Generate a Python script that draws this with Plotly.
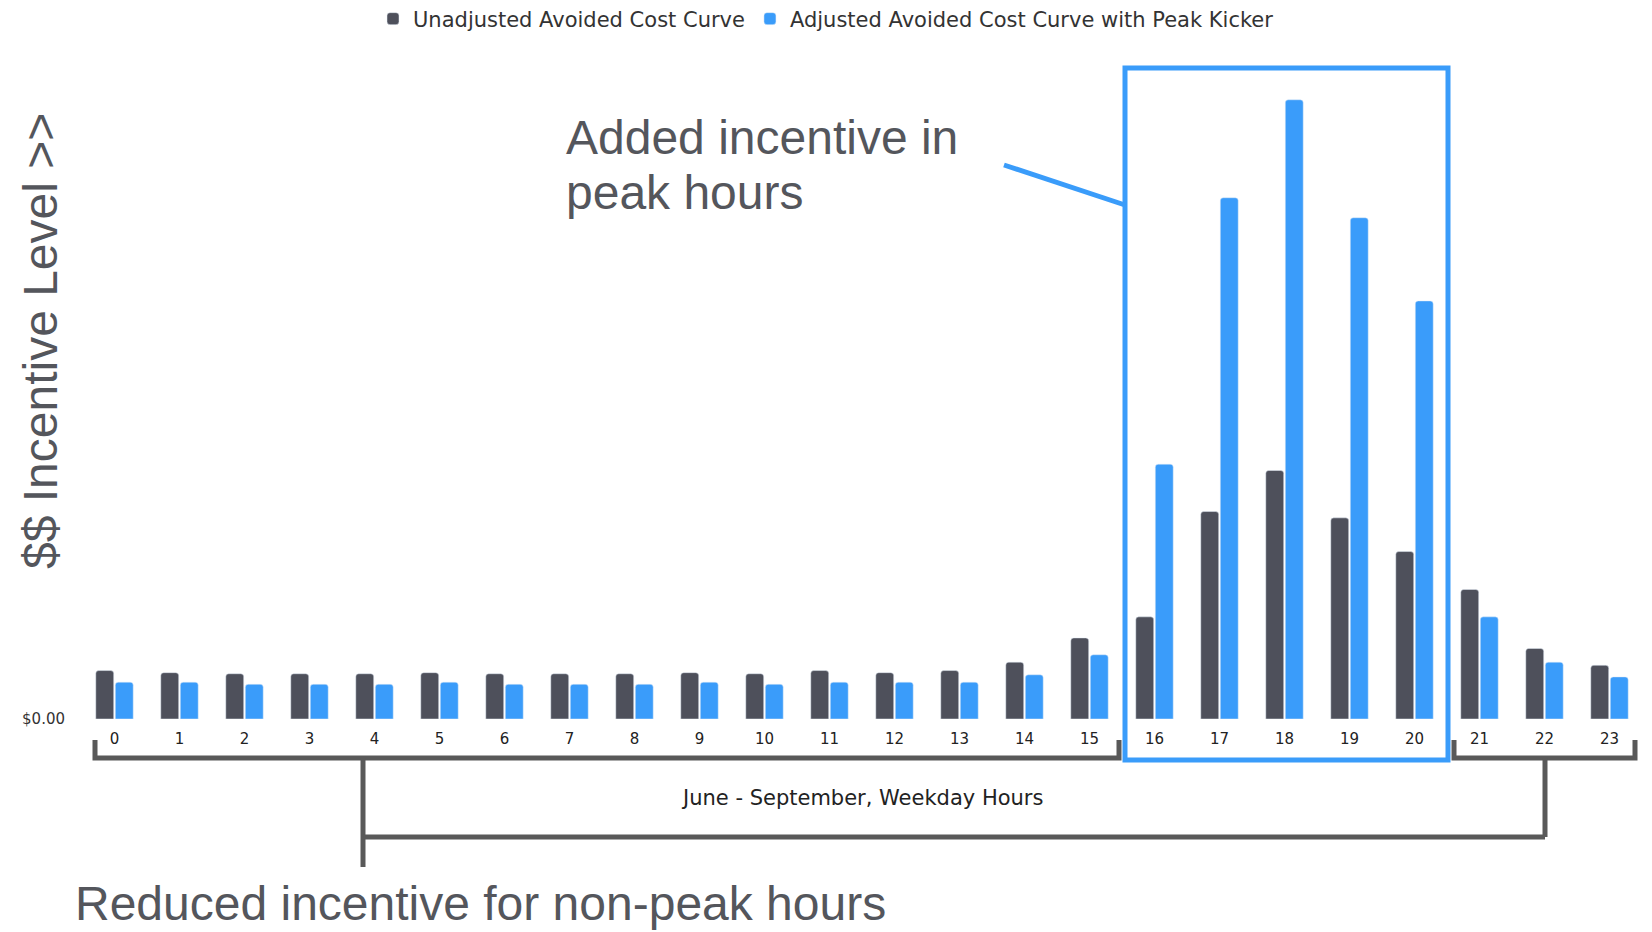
import plotly.graph_objects as go

# ---- data (arbitrary incentive units) ----
hours = list(range(24))
unadjusted = [46, 44, 43, 43, 43, 44, 43, 43, 43, 44, 43, 46, 44, 46, 54, 77,
              97, 197, 236, 191, 159, 123, 67, 51]
adjusted = [35, 35, 33, 33, 33, 35, 33, 33, 33, 35, 33, 35, 35, 35, 42, 61,
            242, 495, 588, 476, 397, 97, 54, 40]
series_names = ["Unadjusted Avoided Cost Curve", "Adjusted Avoided Cost Curve with Peak Kicker"]
tick_labels = [str(h) for h in hours]
y_tick_text = ["$0.00"]

# ---- geometry (page pixel coords; page body margin removed so figure fills the window) ----
W_FIG, H_FIG = 1652, 932
PLOT_LEFT, PLOT_RIGHT, PLOT_TOP, PLOT_BASE = 82, 1642, 60, 719
L = PLOT_LEFT
R = W_FIG - PLOT_RIGHT
T = PLOT_TOP
B = H_FIG - PLOT_BASE
PW = PLOT_RIGHT - PLOT_LEFT
PH = PLOT_BASE - PLOT_TOP


def xp(px):
    return (px - PLOT_LEFT) / PW


def yp(py):
    return (PLOT_BASE - py) / PH


DARK = "#4e505b"
BLUE = "#3a9cfa"
GRAY = "#595959"
TXT = "#54565c"

fig = go.Figure()
fig.add_trace(go.Bar(x=hours, y=unadjusted, name=series_names[0], marker_color=DARK))
fig.add_trace(go.Bar(x=hours, y=adjusted, name=series_names[1], marker_color=BLUE))

shapes = []
line_g = dict(color=GRAY, width=5)
line_b = dict(color=BLUE, width=5)
# left bracket
shapes.append(dict(type="path", xref="paper", yref="paper",
                   path=f"M{xp(95)},{yp(740)} L{xp(95)},{yp(758)} L{xp(1119)},{yp(758)} L{xp(1119)},{yp(740)}",
                   line=line_g))
# right bracket
shapes.append(dict(type="path", xref="paper", yref="paper",
                   path=f"M{xp(1454)},{yp(740)} L{xp(1454)},{yp(758)} L{xp(1635)},{yp(758)} L{xp(1635)},{yp(740)}",
                   line=line_g))
# connector below
shapes.append(dict(type="line", xref="paper", yref="paper", x0=xp(363), x1=xp(363), y0=yp(758), y1=yp(867), line=line_g))
shapes.append(dict(type="line", xref="paper", yref="paper", x0=xp(1545), x1=xp(1545), y0=yp(758), y1=yp(837), line=line_g))
shapes.append(dict(type="line", xref="paper", yref="paper", x0=xp(363), x1=xp(1545), y0=yp(837), y1=yp(837), line=line_g))
# peak rectangle
shapes.append(dict(type="rect", xref="paper", yref="paper", x0=xp(1125), x1=xp(1448), y0=yp(760), y1=yp(68), line=line_b))
# pointer line
shapes.append(dict(type="line", xref="paper", yref="paper", x0=xp(1004), y0=yp(165), x1=xp(1125), y1=yp(205), line=line_b))

annotations = [
    dict(text="$$ Incentive Level >>", xref="paper", yref="paper", x=xp(40), y=yp(341),
         textangle=-90, showarrow=False, xanchor="center", yanchor="middle",
         font=dict(family="Liberation Sans, Arial", size=48, color=TXT)),
    dict(text="Added incentive in", xref="paper", yref="paper", x=xp(564), y=yp(137),
         showarrow=False, xanchor="left", yanchor="middle",
         font=dict(family="Liberation Sans, Arial", size=48, color=TXT)),
    dict(text="peak hours", xref="paper", yref="paper", x=xp(564), y=yp(192),
         showarrow=False, xanchor="left", yanchor="middle",
         font=dict(family="Liberation Sans, Arial", size=48, color=TXT)),
    dict(text="June - September, Weekday Hours", xref="paper", yref="paper", x=xp(862), y=yp(798),
         showarrow=False, xanchor="center", yanchor="middle",
         font=dict(family="DejaVu Sans", size=21, color="#222222")),
    dict(text="Reduced incentive for non-peak hours", xref="paper", yref="paper", x=xp(73), y=yp(904),
         showarrow=False, xanchor="left", yanchor="middle",
         font=dict(family="Liberation Sans, Arial", size=48, color=TXT)),
]

fig.update_layout(
    width=W_FIG, height=H_FIG,
    margin=dict(l=L, r=R, t=T, b=B, autoexpand=False),
    paper_bgcolor="white", plot_bgcolor="white",
    barmode="group", bargap=0.4, bargroupgap=0.08, barcornerradius=3,
    showlegend=True,
    legend=dict(orientation="h", xref="container", yref="container",
                x=826 / W_FIG, y=1 - 19 / H_FIG,
                xanchor="center", yanchor="middle",
                font=dict(family="DejaVu Sans", size=21, color="#333333"), itemclick=False),
    shapes=shapes, annotations=annotations,
    xaxis=dict(range=[-0.5, 23.5], tickmode="array", tickvals=hours, ticktext=tick_labels,
               showgrid=False, zeroline=False, showline=False, ticks="",
               ticklabelstandoff=9,
               tickfont=dict(family="DejaVu Sans", size=15, color="#222222")),
    yaxis=dict(range=[0, PH / 1.0531], tickmode="array", tickvals=[0], ticktext=y_tick_text,
               showgrid=False, zeroline=False, showline=False, ticks="",
               ticklabelstandoff=16,
               tickfont=dict(family="DejaVu Sans", size=15, color="#333333")),
)

fig.write_html("out.html", config={"displayModeBar": False},
               post_script="document.body.style.margin='0';document.body.style.overflow='hidden';")
